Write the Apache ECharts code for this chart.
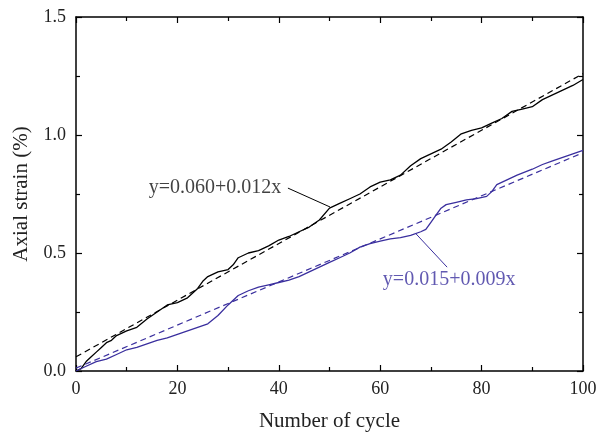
<!DOCTYPE html>
<html><head><meta charset="utf-8">
<script src="https://cdn.jsdelivr.net/npm/echarts@6/dist/echarts.min.js"></script>
<style>html,body{margin:0;padding:0;background:#fff}#c{width:600px;height:434px}</style>
</head><body><div id="c"></div>
<script>
const xTicks = [0, 20, 40, 60, 80, 100];
const yTicks = [0.0, 0.5, 1.0, 1.5];
const blackX = [0,1,2,3,4,5,6,7,8,10,12,14,16,18,20,22,24,25,26,28,30,31,32,34,36,38,40,42,44,46,48,50,52,54,56,58,60,62,64,66,68,70,72,74,76,78,80,82,84,86,88,90,92,94,96,98,100];
const blackY = [0,0.01,0.04,0.06,0.08,0.10,0.12,0.13,0.15,0.17,0.185,0.22,0.25,0.28,0.29,0.31,0.35,0.38,0.40,0.42,0.43,0.45,0.48,0.50,0.51,0.53,0.555,0.57,0.59,0.61,0.64,0.69,0.71,0.73,0.75,0.78,0.80,0.81,0.83,0.87,0.90,0.92,0.94,0.97,1.005,1.02,1.03,1.05,1.07,1.10,1.11,1.12,1.15,1.17,1.19,1.21,1.235];
const blueX = [0,2,4,6,8,10,12,14,16,18,20,22,24,26,28,30,32,34,36,38,40,42,44,46,48,50,52,54,56,58,60,62,64,66,68,69,70,71,72,73,75,77,79,81,82,83,85,87,90,92,94,96,98,100];
const blueY = [0,0.02,0.04,0.05,0.07,0.09,0.10,0.115,0.13,0.14,0.155,0.17,0.185,0.20,0.235,0.28,0.32,0.34,0.355,0.365,0.375,0.385,0.40,0.42,0.44,0.46,0.48,0.50,0.525,0.54,0.55,0.56,0.565,0.575,0.59,0.60,0.63,0.66,0.69,0.705,0.715,0.725,0.73,0.74,0.76,0.79,0.81,0.83,0.855,0.875,0.89,0.905,0.92,0.935];
const blackFitX = [0, 100];
const blackFitY = [0.06, 1.26];
const blueFitX = [0, 100];
const blueFitY = [0.012, 0.925];
const blackLabel = 'y=0.060+0.012x';
const blueLabel = 'y=0.015+0.009x';
const blackLeaderX = [41.8, 50.1];
const blackLeaderY = [0.775, 0.695];
const blueLeaderX = [66.9, 73.2];
const blueLeaderY = [0.585, 0.44];
const blackLabelPos = [27.4, 0.775];
const blueLabelPos = [73.6, 0.385];

const BLUE = '#3a2f9e';
const FONT = 'Liberation Serif';
const zip = (xs, ys) => xs.map((x, i) => [x, ys[i]]);

const chart = echarts.init(document.getElementById('c'));
const axisCommon = {
  axisLine: {show: true, onZero: false, lineStyle: {color: '#000', width: 1.5}},
  splitLine: {show: false},
};
chart.setOption({
  animation: false,
  grid: {left: 76, right: 17, top: 17, bottom: 63, containLabel: false, outerBoundsMode: 'none'},
  xAxis: [
    Object.assign({type: 'value', min: 0, max: 100, interval: 20, position: 'bottom',
      name: 'Number of cycle', nameLocation: 'middle', nameGap: 40,
      nameTextStyle: {fontFamily: FONT, fontSize: 21, color: '#222'},
      axisTick: {inside: true, length: 6, lineStyle: {color: '#000', width: 1.2}},
      minorTick: {show: true, splitNumber: 2, length: 4, lineStyle: {color: '#000', width: 1.2}},
      axisLabel: {fontFamily: FONT, fontSize: 18, color: '#222', margin: 9,
        formatter: v => xTicks.includes(v) ? String(v) : ''}}, axisCommon),
    Object.assign({type: 'value', min: 0, max: 100, interval: 20, position: 'top',
      axisTick: {inside: true, length: 6, lineStyle: {color: '#000', width: 1.2}},
      minorTick: {show: true, splitNumber: 2, length: 4, lineStyle: {color: '#000', width: 1.2}},
      axisLabel: {show: false}}, axisCommon)
  ],
  yAxis: [
    Object.assign({type: 'value', min: 0, max: 1.5, interval: 0.5, position: 'left',
      name: 'Axial strain (%)', nameLocation: 'middle', nameGap: 44,
      nameTextStyle: {fontFamily: FONT, fontSize: 21, color: '#222'},
      axisTick: {inside: true, length: 6, lineStyle: {color: '#000', width: 1.2}},
      minorTick: {show: true, splitNumber: 2, length: 4, lineStyle: {color: '#000', width: 1.2}},
      axisLabel: {fontFamily: FONT, fontSize: 18, color: '#222', margin: 10,
        formatter: v => yTicks.some(t => Math.abs(t - v) < 1e-9) ? v.toFixed(1) : ''}}, axisCommon),
    Object.assign({type: 'value', min: 0, max: 1.5, interval: 0.5, position: 'right',
      axisTick: {inside: true, length: 6, lineStyle: {color: '#000', width: 1.2}},
      minorTick: {show: true, splitNumber: 2, length: 4, lineStyle: {color: '#000', width: 1.2}},
      axisLabel: {show: false}}, axisCommon)
  ],
  series: [
    {type: 'line', data: zip(blackX, blackY), symbol: 'none',
      lineStyle: {color: '#000', width: 1.3}},
    {type: 'line', data: zip(blackFitX, blackFitY), symbol: 'none',
      lineStyle: {color: '#000', width: 1.2, type: [6, 4]}},
    {type: 'line', data: zip(blueX, blueY), symbol: 'none',
      lineStyle: {color: BLUE, width: 1.3}},
    {type: 'line', data: zip(blueFitX, blueFitY), symbol: 'none',
      lineStyle: {color: BLUE, width: 1.2, type: [6, 4]}},
    {type: 'line', data: zip(blackLeaderX, blackLeaderY), symbol: 'none',
      lineStyle: {color: '#000', width: 1}},
    {type: 'line', data: zip(blueLeaderX, blueLeaderY), symbol: 'none',
      lineStyle: {color: BLUE, width: 1}},
    {type: 'scatter', symbolSize: 0, silent: true,
      data: [{value: blackLabelPos, label: {color: '#111', formatter: blackLabel}},
             {value: blueLabelPos, label: {color: BLUE, formatter: blueLabel}}],
      label: {show: true, position: 'inside', fontFamily: FONT, fontSize: 20}}
  ]
});
</script></body></html>
